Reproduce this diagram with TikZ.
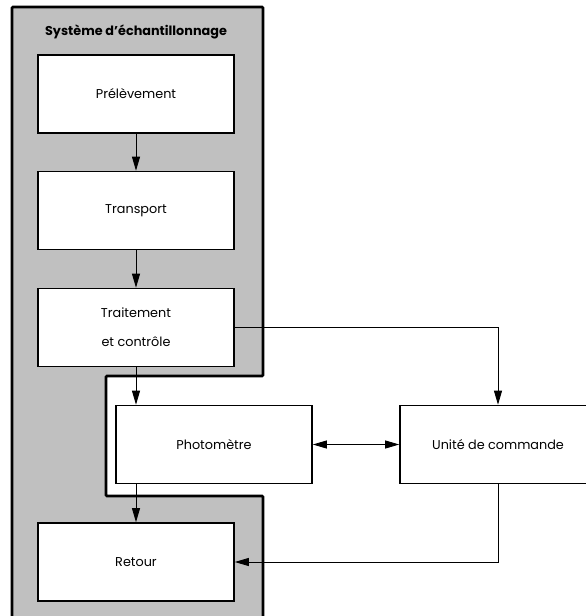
\documentclass[tikz,border=0pt]{standalone}
\usepackage{fontspec}
\setmainfont{Poppins}
\usetikzlibrary{arrows.meta}
\definecolor{panel}{HTML}{C0C0C0}
\begin{document}
\begin{tikzpicture}[x=1pt,y=-1pt,
  box/.style={draw, line width=1.6pt, fill=white, minimum width=196pt, minimum height=78pt, inner sep=0pt, font=\fontsize{12.8}{29}\selectfont, align=center},
  conn/.style={line width=0.9pt, -{Triangle[length=14pt,width=8pt]}},
  biconn/.style={line width=0.9pt, {Triangle[length=14pt,width=8pt]}-{Triangle[length=14pt,width=8pt]}}]
\useasboundingbox (0,0) rectangle (586,616);
\clip (0,0) rectangle (586,616);
\fill[white] (0,0) rectangle (586,616);
\draw[line width=2.6pt, fill=panel, rounded corners=1pt] (12,7) -- (263,7) -- (263,376) -- (106,376) -- (106,496) -- (263,496) -- (263,630) -- (12,630) -- cycle;
\node[font=\bfseries\fontsize{12.8}{14}\selectfont] (title) at (136,32) {Système d’échantillonnage};
\node[box] (prel) at (136,94) {Prélèvement};
\node[box] (trans) at (136,210.5) {Transport};
\node[box] (trait) at (136,327.5) {Traitement\\et contrôle};
\node[box] (photo) at (214,444.5) {Photomètre};
\node[box] (unite) at (498,444.5) {Unité de commande};
\node[box] (ret) at (136,562) {Retour};
\draw[conn] (prel.south) -- (trans.north);
\draw[conn] (trans.south) -- (trait.north);
\draw[conn] (trait.south) -- (trait.south |- photo.north);
\draw[conn] (trait.south |- photo.south) -- (ret.north);
\draw[conn] (trait.east) -| (unite.north);
\draw[conn] (unite.south) |- (ret.east);
\draw[biconn] (photo.east) -- (unite.west);
\end{tikzpicture}
\end{document}
